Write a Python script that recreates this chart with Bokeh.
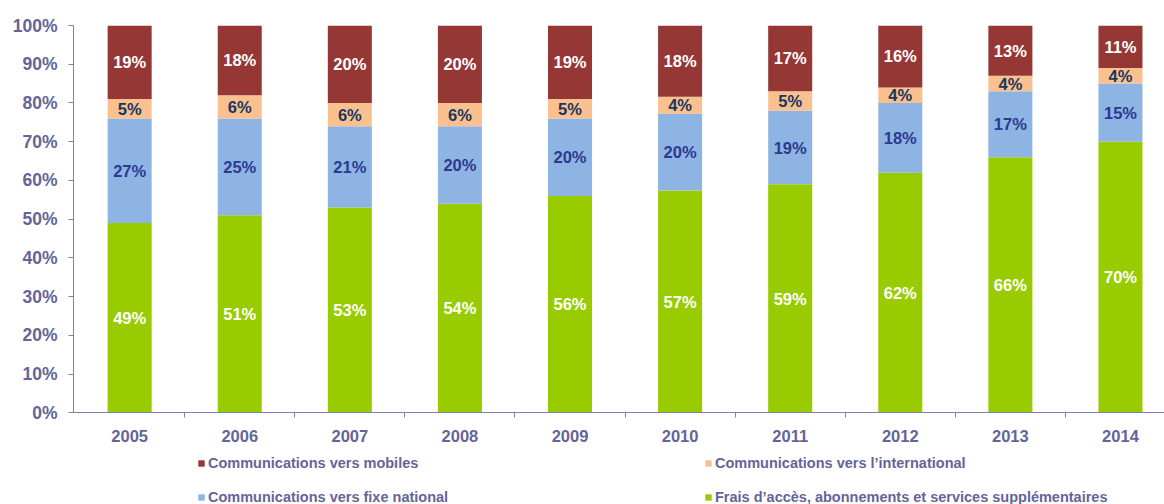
from bokeh.plotting import figure
from bokeh.models import (ColumnDataSource, FixedTicker, PrintfTickFormatter, Legend, LegendItem, Range1d)
from bokeh.core.properties import value
from bokeh.embed import file_html
from bokeh.resources import INLINE

years = ["2005", "2006", "2007", "2008", "2009", "2010", "2011", "2012", "2013", "2014"]
frais = [49, 51, 53, 54, 56, 57.4, 59, 62, 66, 70]
fixe = [27, 25, 21, 20, 20, 19.8, 19, 18, 17, 15]
international = [5, 6, 6, 6, 5, 4.4, 5, 4, 4, 4]
mobiles = [19, 18, 20, 20, 19, 18.4, 17, 16, 13, 11]

series_names = ["frais", "fixe", "international", "mobiles"]
series_labels = {
    "frais": "Frais d\u2019acc\u00e8s, abonnements et services suppl\u00e9mentaires",
    "fixe": "Communications vers fixe national",
    "international": "Communications vers l\u2019international",
    "mobiles": "Communications vers mobiles",
}
colors = {"frais": "#99CC00", "fixe": "#8EB4E3", "international": "#FAC090", "mobiles": "#953735"}
label_colors = {"frais": "#FFFFFF", "fixe": "#2B3990", "international": "#17375E", "mobiles": "#FFFFFF"}

AXIS_TEXT = "#64649A"
AXIS_LINE = "#7F7FB2"
FONT = "Liberation Sans"

xs = list(range(len(years)))
data = dict(x=xs, frais=frais, fixe=fixe, international=international, mobiles=mobiles)
src = ColumnDataSource(data)

# frame spans from the 100% line down to the bottom of the picture;
# the region below 0 holds the x labels and the legend
p = figure(width=1164, height=504, output_backend="svg", toolbar_location=None,
           x_range=Range1d(-0.51, 9.40), y_range=Range1d(-23.64, 100),
           min_border_left=73, min_border_right=0, min_border_top=25, min_border_bottom=0)
p.outline_line_color = None
p.xgrid.visible = False
p.ygrid.visible = False

renderers = p.vbar_stack(series_names, x="x", width=0.4, color=[colors[s] for s in series_names],
                         line_color=None, source=src)

# data labels
vals = {"frais": frais, "fixe": fixe, "international": international, "mobiles": mobiles}
lx, ly, lt, lc = [], [], [], []
for i in xs:
    base = 0
    for s in series_names:
        v = vals[s][i]
        lx.append(i)
        ly.append(base + v / 2)
        lt.append("%d%%" % round(v))
        lc.append(label_colors[s])
        base += v
lsrc = ColumnDataSource(dict(x=lx, y=ly, t=lt, c=lc))
p.text(x="x", y="y", text="t", source=lsrc, text_color="c", text_align="center",
       text_baseline="middle", text_font=value(FONT), text_font_style="bold",
       text_font_size="16.5px")

# y axis
yax = p.yaxis[0]
yax.ticker = FixedTicker(ticks=list(range(0, 101, 10)), minor_ticks=[])
yax.bounds = (0, 100)
yax.formatter = PrintfTickFormatter(format="%d%%")
yax.axis_line_color = AXIS_LINE
yax.major_tick_line_color = AXIS_LINE
yax.major_tick_out = 5
yax.major_tick_in = 0
yax.minor_tick_line_color = None
yax.major_label_text_color = AXIS_TEXT
yax.major_label_text_font = FONT
yax.major_label_text_font_style = "bold"
yax.major_label_text_font_size = "17.5px"
yax.major_label_standoff = 11

# x axis, pinned at 0
xax = p.xaxis[0]
xax.fixed_location = 0
xax.ticker = FixedTicker(ticks=xs, minor_ticks=[i + 0.5 for i in xs[:-1]])
xax.major_label_overrides = {i: y for i, y in zip(xs, years)}
xax.axis_line_color = AXIS_LINE
xax.major_tick_line_color = None
xax.major_tick_out = 0
xax.major_tick_in = 0
xax.minor_tick_line_color = AXIS_LINE
xax.minor_tick_out = 5
xax.minor_tick_in = 0
xax.major_label_text_color = AXIS_TEXT
xax.major_label_text_font = FONT
xax.major_label_text_font_style = "bold"
xax.major_label_text_font_size = "16.5px"
xax.major_label_standoff = 12

# legends: one per item, two columns
rmap = dict(zip(series_names, renderers))
positions = {
    "mobiles": (124, 32.5),
    "international": (631, 32.5),
    "fixe": (124, -1),
    "frais": (631, -1),
}
for s in ["mobiles", "international", "fixe", "frais"]:
    leg = Legend(items=[LegendItem(label=series_labels[s], renderers=[rmap[s]])],
                 location=positions[s], orientation="vertical")
    leg.border_line_color = None
    leg.background_fill_alpha = 0
    leg.padding = 0
    leg.margin = 0
    leg.spacing = 0
    leg.glyph_width = 8
    leg.glyph_height = 8
    leg.label_standoff = 3
    leg.label_height = 17
    leg.label_text_font = FONT
    leg.label_text_font_style = "bold"
    leg.label_text_font_size = "14.5px"
    leg.label_text_color = AXIS_TEXT
    p.add_layout(leg)

open("out.html", "w").write(file_html(p, INLINE))
